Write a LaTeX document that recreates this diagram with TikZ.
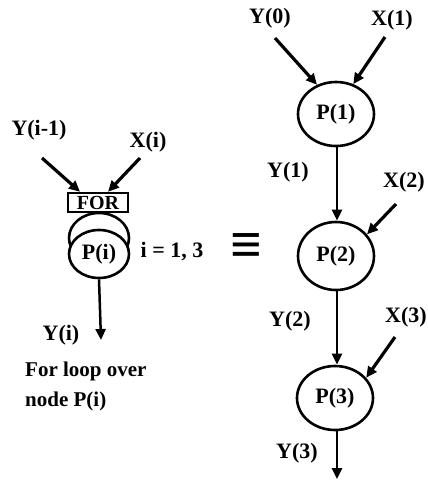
\documentclass[tikz,border=0pt]{standalone}
\usepackage{fontspec}
\setmainfont{Liberation Serif}
\usetikzlibrary{arrows.meta,shapes.geometric}
\begin{document}
\begin{tikzpicture}[x=1pt,y=-1pt,
  lbl/.style={font=\bfseries\fontsize{22}{26}\selectfont, inner sep=0pt},
  proc/.style={ellipse, draw, line width=2.6pt, fill=white, inner sep=0pt,
    minimum width=76pt, minimum height=64pt, font=\bfseries\fontsize{22}{26}\selectfont},
  inarrow/.style={line width=3.2pt, -{Triangle[length=11pt,width=10pt]}},
  flowarrow/.style={line width=2.5pt, -{Triangle[length=11pt,width=10pt]}}]
\useasboundingbox (0,0) rectangle (428,480);
% ---------- left: loop notation ----------
\node[lbl] (lyim1) at (39,130) {Y(i-1)};
\node[lbl] (lxi) at (148,142) {X(i)};
\coordinate (lys) at (42,158);
\coordinate (lxs) at (140,158);
\node[draw, line width=2.4pt, minimum width=60pt, minimum height=19pt, inner sep=0pt,
  text height=13pt, text depth=0pt,
  font=\bfseries\fontsize{20}{20}\selectfont] (for) at (98,202.5) {FOR};
\node[ellipse, draw, line width=2.6pt, minimum width=60pt, minimum height=50pt, inner sep=0pt] (loop) at (99,238) {};
\node[proc, minimum width=60pt, minimum height=48pt] (pi) at (99,254) {P(i)};
\node[lbl] (range) at (172,252) {i = 1, 3};
\coordinate (lyend) at (101,340);
\node[lbl] (lyi) at (61,335) {Y(i)};
\node[lbl, anchor=north west, align=left, font=\bfseries\fontsize{21}{30}\selectfont] (note) at (25,362) {For loop over\\node P(i)};
\draw[inarrow] (lys) -- ([xshift=-18pt]for.north);
\draw[inarrow] (lxs) -- ([xshift=10pt]for.north);
\draw[flowarrow] (pi.south) -- (lyend);
% ---------- equivalence ----------
\node[font=\bfseries\fontsize{56}{56}\selectfont, inner sep=0pt] (eq) at (246,249) {≡};
% ---------- right: unrolled ----------
\node[proc] (p1) at (336,114) {P(1)};
\node[proc, minimum height=68pt] (p2) at (336,256) {P(2)};
\node[proc] (p3) at (335,398) {P(3)};
\node[lbl] (y0) at (270,18) {Y(0)};
\node[lbl] (x1) at (392,20) {X(1)};
\node[lbl] (y1) at (288,172) {Y(1)};
\node[lbl] (x2) at (404,182) {X(2)};
\node[lbl] (y2) at (290,321) {Y(2)};
\node[lbl] (x3) at (406,317) {X(3)};
\node[lbl] (y3) at (297,453) {Y(3)};
\coordinate (y0s) at (275,38);
\coordinate (x1s) at (385,37);
\coordinate (x2s) at (396,204);
\coordinate (x3s) at (395,337);
\coordinate (y3end) at (337,479);
\draw[inarrow] (y0s) -- (p1.123);
\draw[inarrow] (x1s) -- (p1.60);
\draw[inarrow] (x2s) -- (p2.35);
\draw[inarrow] (x3s) -- (p3.33);
\draw[flowarrow] ([xshift=1pt]p1.south) -- ([xshift=1pt]p2.north);
\draw[flowarrow] ([xshift=1pt]p2.south) -- ([xshift=2pt]p3.north);
\draw[flowarrow] ([xshift=2pt]p3.south) -- (y3end);
\end{tikzpicture}
\end{document}
